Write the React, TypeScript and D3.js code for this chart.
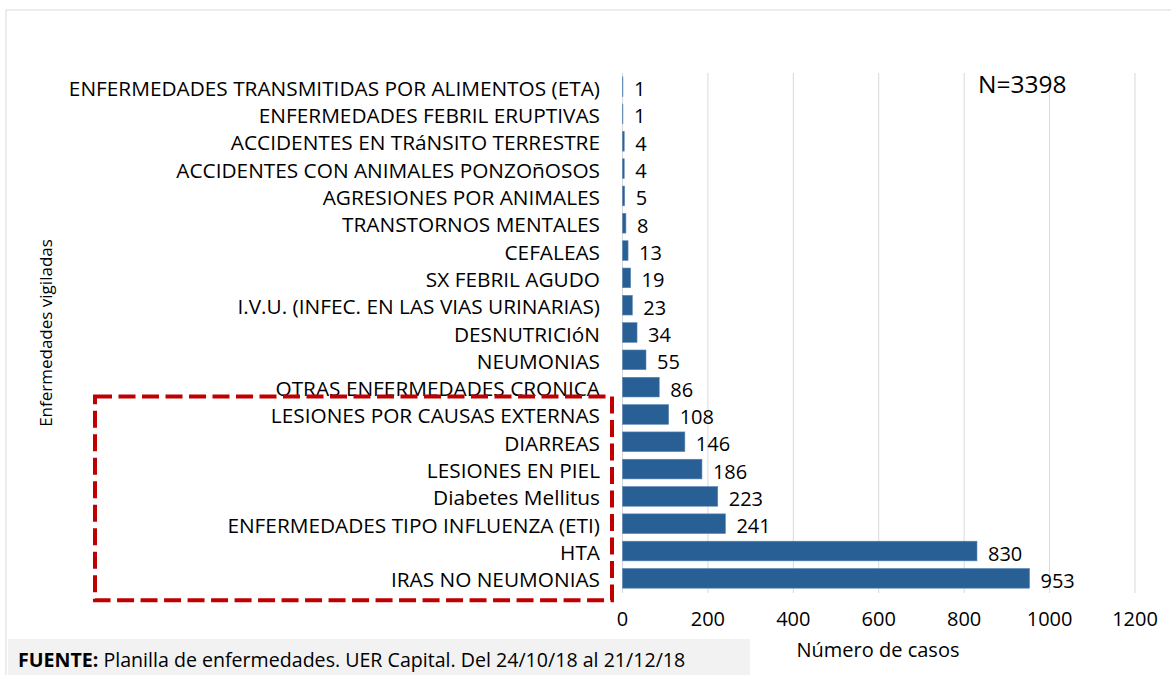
import React from "react";
import * as d3 from "d3";

const categories = [
  "ENFERMEDADES TRANSMITIDAS POR ALIMENTOS (ETA)",
  "ENFERMEDADES FEBRIL ERUPTIVAS",
  "ACCIDENTES EN TRáNSITO TERRESTRE",
  "ACCIDENTES CON ANIMALES PONZOñOSOS",
  "AGRESIONES POR ANIMALES",
  "TRANSTORNOS MENTALES",
  "CEFALEAS",
  "SX FEBRIL AGUDO",
  "I.V.U. (INFEC. EN LAS VIAS URINARIAS)",
  "DESNUTRICIóN",
  "NEUMONIAS",
  "OTRAS ENFERMEDADES CRONICA",
  "LESIONES POR CAUSAS EXTERNAS",
  "DIARREAS",
  "LESIONES EN PIEL",
  "Diabetes Mellitus",
  "ENFERMEDADES TIPO INFLUENZA (ETI)",
  "HTA",
  "IRAS NO NEUMONIAS",
];
const values = [1, 1, 4, 4, 5, 8, 13, 19, 23, 34, 55, 86, 108, 146, 186, 223, 241, 830, 953];
const xTicks = [0, 200, 400, 600, 800, 1000, 1200];
const highlighted = [
  "LESIONES POR CAUSAS EXTERNAS",
  "IRAS NO NEUMONIAS",
];

const W = 1171;
const H = 675;
const FONT = "'Open Sans', 'Noto Sans', sans-serif";

export default function App() {
  const x = d3.scaleLinear().domain([0, 1200]).range([622.5, 1135]);
  const y = d3.scaleBand().domain(categories).range([73, 592]).paddingInner(0.28).paddingOuter(0.14);
  const bw = y.bandwidth();
  const hiTop = (y(highlighted[0]) as number) - 8;
  const hiBottom = (y(highlighted[1]) as number) + bw + 12;

  return (
    <svg
      width={W}
      height={H}
      style={{ position: "absolute", left: 0, top: 0, display: "block", background: "#fff" }}
      fontFamily={FONT}
    >
      <rect x={6} y={10} width={1170} height={680} fill="#fff" stroke="#d9d9d9" strokeWidth={1} />
      {xTicks.map((t) => (
        <line key={t} x1={x(t)} x2={x(t)} y1={73} y2={593} stroke="#d9d9d9" strokeWidth={1} />
      ))}
      {categories.map((c, i) => (
        <rect
          key={c}
          x={x(0)}
          y={y(c)}
          width={Math.max(0, x(values[i]) - x(0))}
          height={bw}
          fill="#285f94"
          stroke="#5b86b5"
          strokeWidth={0.6}
        />
      ))}
      {categories.map((c) => (
        <text
          key={c}
          x={600}
          y={(y(c) as number) + bw / 2 + 1}
          textAnchor="end"
          dominantBaseline="central"
          fontSize={20.8}
          fill="#000"
        >
          {c}
        </text>
      ))}
      {categories.map((c, i) => (
        <text
          key={c}
          x={x(values[i]) + 11}
          y={(y(c) as number) + bw / 2 + 2}
          dominantBaseline="central"
          fontSize={20}
          fill="#000"
        >
          {values[i]}
        </text>
      ))}
      {xTicks.map((t) => (
        <text key={t} x={x(t)} y={618.5} textAnchor="middle" dominantBaseline="central" fontSize={20} fill="#000">
          {t}
        </text>
      ))}
      <text x={878} y={649} textAnchor="middle" dominantBaseline="central" fontSize={20} fill="#000">
        Número de casos
      </text>
      <text
        transform={`translate(45,333) rotate(-90)`}
        textAnchor="middle"
        dominantBaseline="central"
        fontSize={17}
        fill="#000"
      >
        Enfermedades vigiladas
      </text>
      <text x={978} y={83} dominantBaseline="central" fontSize={24.5} fill="#000">
        N=3398
      </text>
      <rect
        x={95}
        y={hiTop}
        width={517}
        height={hiBottom - hiTop}
        fill="none"
        stroke="#c00000"
        strokeWidth={4}
        strokeDasharray="17 6.5"
      />
      <rect x={8} y={639} width={742} height={40} fill="#f2f2f2" />
      <text x={18} y={659} dominantBaseline="central" fontSize={19.6} fill="#000">
        <tspan fontWeight="bold">FUENTE:</tspan> Planilla de enfermedades. UER Capital. Del 24/10/18 al 21/12/18
      </text>
    </svg>
  );
}
